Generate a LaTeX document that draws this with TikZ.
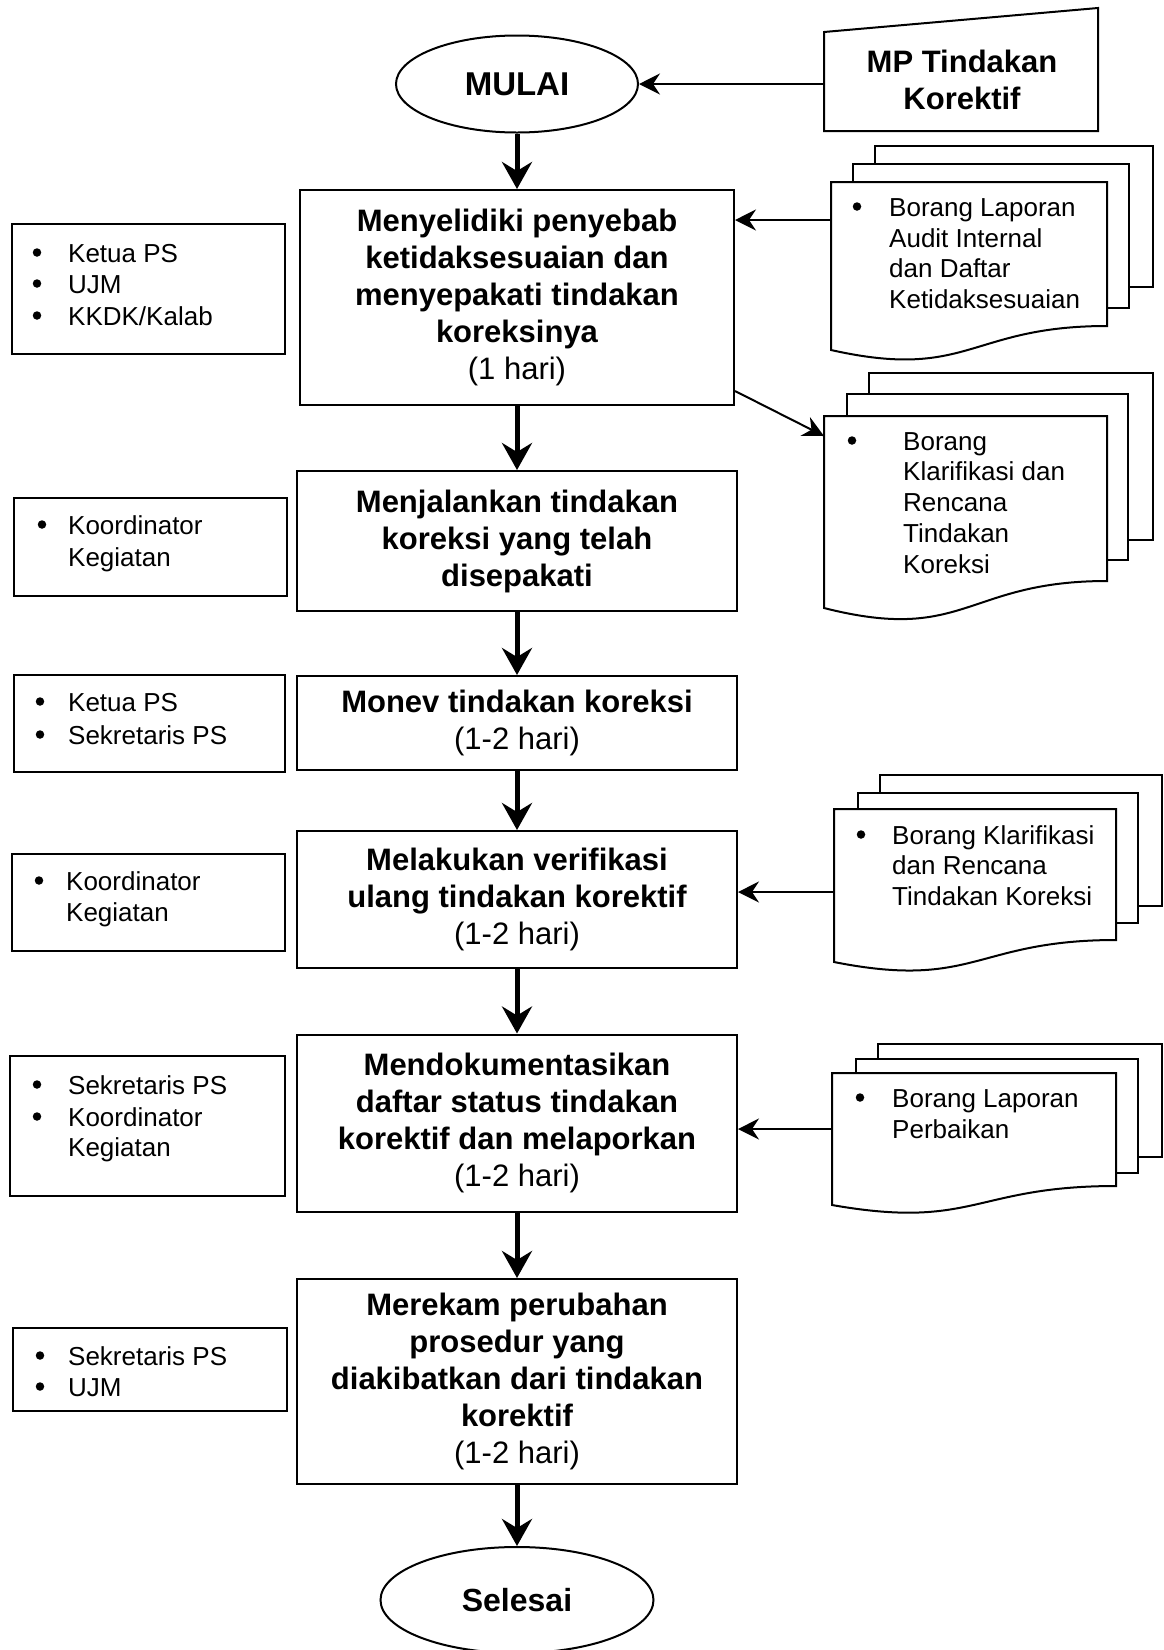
\documentclass[tikz,border=0pt]{standalone}
\usepackage{fontspec}
\setmainfont{Liberation Sans}
\usetikzlibrary{arrows.meta,shapes.geometric}
\begin{document}
\begin{tikzpicture}[x=1pt,y=-1pt,
  mainbox/.style={draw, line width=2pt, rectangle, align=center, inner sep=0pt, font=\fontsize{31}{37}\selectfont\bfseries},
  sidebox/.style={draw, line width=2pt, rectangle, anchor=north west, inner sep=0pt},
  lt/.style={anchor=base west, inner sep=0pt, font=\fontsize{26}{31}\selectfont},
  bt/.style={circle, fill=black, inner sep=0pt, minimum size=8.5pt, yshift=9.5pt},
  flow/.style={line width=5pt, -{Stealth[length=27pt,width=30pt,inset=9pt]}},
  feed/.style={line width=2pt, -{Stealth[length=21pt,width=21pt,inset=7pt]}},
  sheet/.style={draw, line width=2pt, fill=white, line join=miter},
  term/.style={ellipse, draw, line width=2pt, inner sep=0pt, font=\fontsize{32}{37}\selectfont\bfseries}]
\useasboundingbox[fill=white] (0,0) rectangle (1163,1650);

% ---------- start / MP ----------
\node[term, minimum width=242pt, minimum height=97pt, font=\fontsize{33}{37}\selectfont\bfseries] (mulai) at (517,84) {MULAI};
\draw[sheet] (824,32) -- (1098,8) -- (1098,131) -- (824,131) -- cycle;
\node[align=center, inner sep=0pt, font=\fontsize{31}{37}\selectfont\bfseries] (mptext) at (962,80) {MP Tindakan\\Korektif};
\coordinate (mpL) at (824,84);

% ---------- main process boxes ----------
\node[mainbox, minimum width=434pt, minimum height=215pt] (b1) at (517,297.5)
  {Menyelidiki penyebab\\ketidaksesuaian dan\\menyepakati tindakan\\koreksinya\\\mdseries(1 hari)};
\node[mainbox, minimum width=440pt, minimum height=140pt] (b2) at (517,541)
  {Menjalankan tindakan\\koreksi yang telah\\disepakati};
\node[mainbox, minimum width=440pt, minimum height=94pt] (b3) at (517,723)
  {Monev tindakan koreksi\\\mdseries(1-2 hari)};
\node[mainbox, minimum width=440pt, minimum height=137pt] (b4) at (517,899.5)
  {Melakukan verifikasi\\ulang tindakan korektif\\\mdseries(1-2 hari)};
\node[mainbox, minimum width=440pt, minimum height=177pt] (b5) at (517,1123)
  {Mendokumentasikan\\daftar status tindakan\\korektif dan melaporkan\\\mdseries(1-2 hari)};
\node[mainbox, minimum width=440pt, minimum height=205pt] (b6) at (517,1381.5)
  {Merekam perubahan\\prosedur yang\\diakibatkan dari tindakan\\korektif\\\mdseries(1-2 hari)};
\node[term, minimum width=273pt, minimum height=106pt] (selesai) at (517,1600) {Selesai};

% ---------- side boxes (left) ----------
\node[sidebox, minimum width=273pt, minimum height=130pt] (s1) at (11,223) {};
\node[bt] (s1a) at (37,262) {};   \node[lt] (s1at) at (68,262) {Ketua PS};
\node[bt] (s1b) at (37,293) {};   \node[lt] (s1bt) at (68,293) {UJM};
\node[bt] (s1c) at (37,325) {};   \node[lt] (s1ct) at (68,325) {KKDK/Kalab};

\node[sidebox, minimum width=273pt, minimum height=98pt] (s2) at (13,497) {};
\node[bt] (s2a) at (42,534) {};   \node[lt] (s2at) at (68,534) {Koordinator};
\node[lt] (s2bt) at (68,566) {Kegiatan};

\node[sidebox, minimum width=271pt, minimum height=97pt] (s3) at (13,674) {};
\node[bt] (s3a) at (40,711) {};   \node[lt] (s3at) at (68,711) {Ketua PS};
\node[bt] (s3b) at (40,744) {};   \node[lt] (s3bt) at (68,744) {Sekretaris PS};

\node[sidebox, minimum width=273pt, minimum height=97pt] (s4) at (11,853) {};
\node[bt] (s4a) at (39,890) {};   \node[lt] (s4at) at (66,890) {Koordinator};
\node[lt] (s4bt) at (66,921.5) {Kegiatan};

\node[sidebox, minimum width=275pt, minimum height=140pt] (s5) at (9,1055) {};
\node[bt] (s5a) at (37,1094) {};  \node[lt] (s5at) at (68,1094) {Sekretaris PS};
\node[bt] (s5b) at (37,1126) {};  \node[lt] (s5bt) at (68,1126) {Koordinator};
\node[lt] (s5ct) at (68,1156) {Kegiatan};

\node[sidebox, minimum width=274pt, minimum height=83pt] (s6) at (12,1327) {};
\node[bt] (s6a) at (40,1365) {};  \node[lt] (s6at) at (68,1365) {Sekretaris PS};
\node[bt] (s6b) at (40,1396) {};  \node[lt] (s6bt) at (68,1396) {UJM};

% ---------- document stacks (right) ----------
% doc 1
\draw[sheet] (875,146) rectangle (1153,287);
\draw[sheet] (853,164) rectangle (1129,308);
\draw[sheet] (831,182) -- (1107,182) -- (1107,326) .. controls (969,326) and (969,381) .. (831,350) -- cycle;
\node[bt] (d1a) at (857,216) {};
\node[lt] (d1t1) at (889,216) {Borang Laporan};
\node[lt] (d1t2) at (889,247) {Audit Internal};
\node[lt] (d1t3) at (889,277) {dan Daftar};
\node[lt] (d1t4) at (889,308) {Ketidaksesuaian};
\coordinate (d1) at (831,220);

% doc 2
\draw[sheet] (869,373) rectangle (1153,540);
\draw[sheet] (847,394) rectangle (1128,560);
\draw[sheet] (824,416) -- (1107,416) -- (1107,581) .. controls (965.5,581) and (965.5,644) .. (824,608) -- cycle;
\node[bt] (d2a) at (852,450) {};
\node[lt] (d2t1) at (903,450) {Borang};
\node[lt] (d2t2) at (903,480.5) {Klarifikasi dan};
\node[lt] (d2t3) at (903,511) {Rencana};
\node[lt] (d2t4) at (903,542) {Tindakan};
\node[lt] (d2t5) at (903,573) {Koreksi};
\coordinate (d2) at (824,436);

% doc 3
\draw[sheet] (880,775) rectangle (1162,906);
\draw[sheet] (858,793) rectangle (1138,923);
\draw[sheet] (834,809) -- (1116,809) -- (1116,940) .. controls (975,940) and (975,990) .. (834,962) -- cycle;
\node[bt] (d3a) at (861,844) {};
\node[lt] (d3t1) at (892,844) {Borang Klarifikasi};
\node[lt] (d3t2) at (892,874) {dan Rencana};
\node[lt] (d3t3) at (892,905) {Tindakan Koreksi};
\coordinate (d3) at (834,892);

% doc 4
\draw[sheet] (878,1044) rectangle (1162,1157);
\draw[sheet] (856,1059) rectangle (1138,1173);
\draw[sheet] (832,1073) -- (1116,1073) -- (1116,1186) .. controls (974,1186) and (974,1230) .. (832,1205) -- cycle;
\node[bt] (d4a) at (860,1107) {};
\node[lt] (d4t1) at (892,1107) {Borang Laporan};
\node[lt] (d4t2) at (892,1138) {Perbaikan};
\coordinate (d4) at (832,1129);

% ---------- connectors ----------
\draw[feed] (mpL) -- (mulai.east);
\draw[flow] (mulai.south) -- (b1.north);
\draw[flow] (b1.south) -- (b2.north);
\draw[flow] (b2.south) -- (b3.north);
\draw[flow] (b3.south) -- (b4.north);
\draw[flow] (b4.south) -- (b5.north);
\draw[flow] (b5.south) -- (b6.north);
\draw[flow] (b6.south) -- (selesai.north);
\draw[feed] (d1) -- (d1 -| b1.east);
\draw[feed] ([yshift=15pt]b1.south east) -- (d2);
\draw[feed] (d3) -- (d3 -| b4.east);
\draw[feed] (d4) -- (d4 -| b5.east);
\end{tikzpicture}
\end{document}
